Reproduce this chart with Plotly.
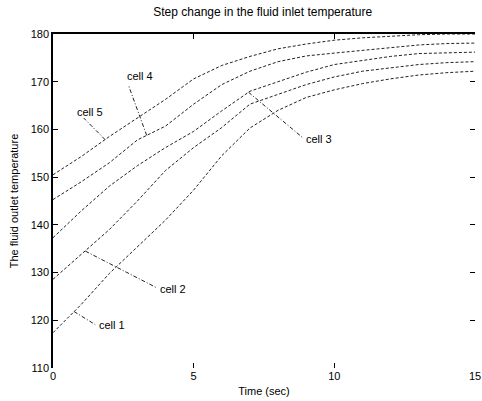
import numpy as np
import plotly.graph_objects as go

time_sec = [0, 1, 2, 3, 4, 5, 6, 7, 8, 9, 10, 11, 12, 13, 14, 15]

cell_1 = [117.4, 123.3, 129.8, 135.3, 141.0, 147.3, 154.5, 160.3, 164.0, 166.7, 168.3, 169.6, 170.6, 171.4, 171.9, 172.2]
cell_2 = [128.6, 133.7, 139.0, 145.0, 151.4, 156.2, 160.4, 165.3, 167.4, 169.4, 171.0, 172.2, 172.9, 173.6, 174.0, 174.2]
cell_3 = [137.3, 142.9, 148.1, 152.4, 156.2, 159.6, 163.9, 168.0, 170.0, 172.0, 173.6, 174.4, 175.3, 175.9, 176.1, 176.2]
cell_4 = [145.3, 149.0, 153.0, 157.8, 160.7, 165.3, 169.4, 172.2, 174.2, 175.4, 176.0, 176.6, 177.2, 177.7, 178.0, 178.1]
cell_5 = [150.5, 154.3, 158.5, 162.4, 166.3, 170.6, 173.4, 175.3, 176.9, 177.9, 178.7, 179.2, 179.6, 179.85, 180.0, 180.0]

series = [cell_1, cell_2, cell_3, cell_4, cell_5]
labels = ["cell 1", "cell 2", "cell 3", "cell 4", "cell 5"]
# where each leader line touches its curve (time), and where its label end sits (time, temperature)
leader_t = [0.75, 1.15, 6.95, 3.33, 1.85]
label_pos = [(1.5, 119.1), (3.69, 126.8), (8.89, 158.2), (2.68, 169.3), (1.09, 162.4)]
text_pos = [(1.55, 119.0), (3.72, 126.6), (8.93, 158.0), (2.56, 171.3), (0.79, 163.6)]

x_ticks = [0, 5, 10, 15]
y_ticks = [110, 120, 130, 140, 150, 160, 170, 180]

title = "Step change in the fluid inlet temperature"
x_title = "Time (sec)"
y_title = "The fluid outlet temperature"

FONT = "Liberation Sans, Arial, sans-serif"

fig = go.Figure()
for vals, name in zip(series, labels):
    fig.add_trace(go.Scatter(x=time_sec, y=vals, mode="lines", name=name,
                             line=dict(color="#222222", width=1, dash="3px,2px"),
                             showlegend=False, hoverinfo="skip"))
# dummy trace for mirrored (top/right) tick axes
fig.add_trace(go.Scatter(x=[None], y=[None], xaxis="x2", yaxis="y2", showlegend=False,
                         hoverinfo="skip"))

for vals, name, lt, lp, tp in zip(series, labels, leader_t, label_pos, text_pos):
    yc = float(np.interp(lt, time_sec, vals))
    fig.add_shape(type="line", x0=lt, y0=yc, x1=lp[0], y1=lp[1], xref="x", yref="y",
                  line=dict(color="#222222", width=1, dash="4px,2px,1px,2px"))
    fig.add_annotation(x=tp[0], y=tp[1], text=name, showarrow=False, xanchor="left",
                       yanchor="middle", font=dict(family=FONT, size=11, color="black"))

axis_font = dict(family=FONT, size=11, color="black")
fig.update_layout(
    width=482, height=401,
    margin=dict(l=53, r=7, t=34, b=33, autoexpand=False),
    paper_bgcolor="white", plot_bgcolor="white",
    title=dict(text=title, x=0.545, xanchor="center", y=0.97, yanchor="middle",
               font=dict(family=FONT, size=12, color="black")),
    xaxis=dict(range=[0, 15], tickvals=x_ticks, ticks="inside", ticklen=5, tickcolor="black",
               showline=False, showgrid=False, zeroline=False, tickfont=axis_font,
               automargin=False, title=dict(text=x_title, font=axis_font, standoff=6)),
    yaxis=dict(range=[110, 180], tickvals=y_ticks, ticks="inside", ticklen=5, tickcolor="black",
               showline=True, linecolor="black", linewidth=1.5, showgrid=False, zeroline=False,
               tickfont=axis_font, automargin=False,
               title=dict(text=y_title, font=axis_font, standoff=10)),
    xaxis2=dict(overlaying="x", side="top", anchor="y", matches="x", range=[0, 15],
                tickvals=x_ticks, ticks="inside", ticklen=5, tickcolor="black",
                showline=True, linecolor="black", linewidth=1.5, showticklabels=False,
                showgrid=False, zeroline=False, automargin=False),
    yaxis2=dict(overlaying="y", side="right", anchor="x", matches="y", range=[110, 180],
                tickvals=y_ticks, ticks="inside", ticklen=5, tickcolor="black",
                showline=False, showticklabels=False, showgrid=False, zeroline=False,
                automargin=False),
)

fig.write_html("out.html", config={"displayModeBar": False},
               post_script="document.body.style.margin='0';")
